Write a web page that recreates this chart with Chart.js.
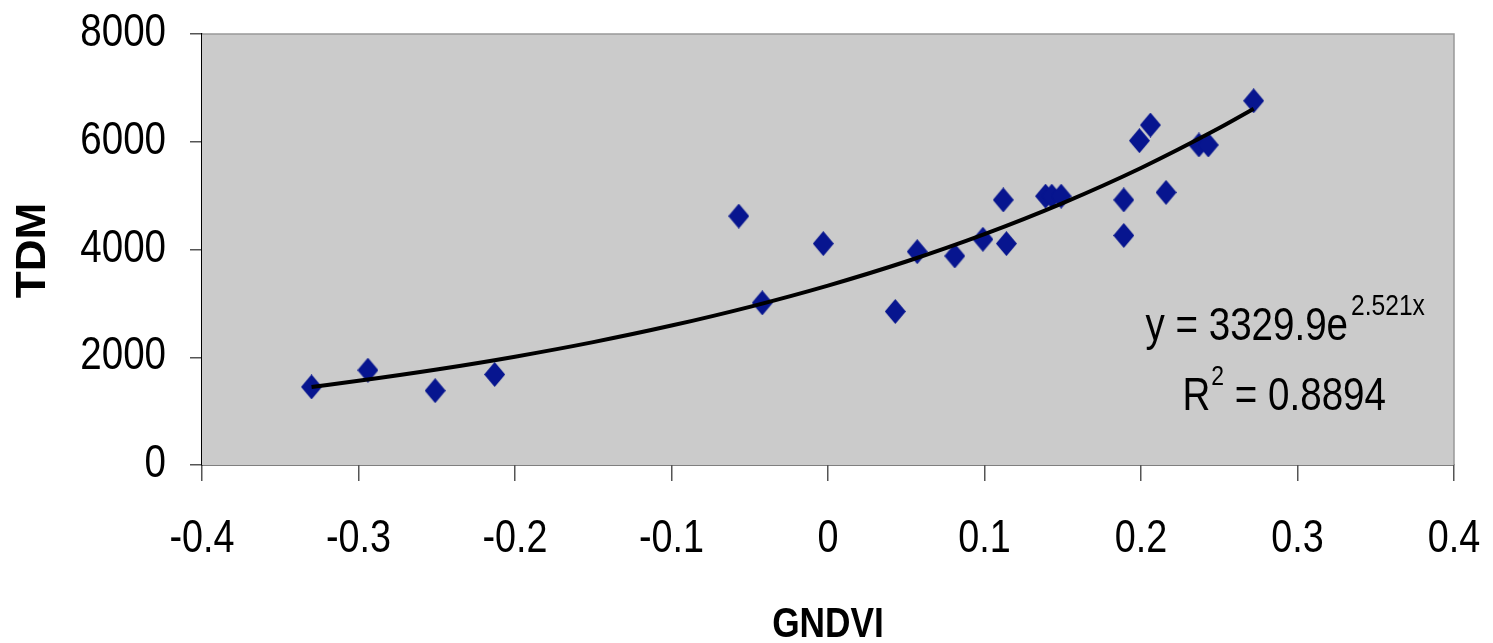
<!DOCTYPE html>
<html>
<head>
<meta charset="utf-8">
<script src="https://cdn.jsdelivr.net/npm/chart.js@4.4.1/dist/chart.umd.min.js"></script>
<style>
	html, body { margin: 0; padding: 0; background: #ffffff; }
	#wrap { width: 1493px; height: 643px; }
</style>
</head>
<body>
<div id="wrap"><canvas id="grafico" width="1493" height="643"></canvas></div>
<script>

// puntos medidos
var gndvi = [-0.330, -0.294, -0.251, -0.213, -0.057, -0.042, -0.003, 0.043, 0.057, 0.081, 0.099, 0.114, 0.112, 0.139, 0.143, 0.149, 0.189, 0.189, 0.199, 0.206, 0.216, 0.237, 0.243, 0.272]
var tdm = [1450, 1760, 1380, 1680, 4620, 3010, 4110, 2850, 3960, 3880, 4190, 4110, 4920, 4990, 4990, 4990, 4920, 4260, 6020, 6310, 5060, 5940, 5940, 6760]

// linea de tendencia
var trend_x = [-0.33, -0.3, -0.25, -0.2, -0.15, -0.1, -0.05, 0, 0.05, 0.1, 0.15, 0.2, 0.25, 0.272]
var trend_y = [1449, 1563, 1773, 2011, 2281, 2588, 2936, 3330, 3777, 4285, 4861, 5513, 6254, 6611]

// ticks
var x_ticks = [-0.4, -0.3, -0.2, -0.1, 0, 0.1, 0.2, 0.3, 0.4]
var y_ticks = [0, 2000, 4000, 6000, 8000]

var titulo_x = 'GNDVI'
var titulo_y = 'TDM'
var ecuacion = ['y = 3329.9e', '2.521x']
var r2 = ['R', '2', ' = 0.8894']

var fuente = "'Liberation Sans', Arial, sans-serif"
var angosto = 0.82  // el texto original es condensado

// rombo azul para los puntos
var rombo = document.createElement('canvas')
rombo.width = 21
rombo.height = 25
var rc = rombo.getContext('2d')
rc.fillStyle = '#07158f'
rc.beginPath()
rc.moveTo(10.5, 0)
rc.lineTo(21, 12.5)
rc.lineTo(10.5, 25)
rc.lineTo(0, 12.5)
rc.closePath()
rc.fill()

var puntos = gndvi.map(function(v, i){ return {x: v, y: tdm[i]} })
var tendencia = trend_x.map(function(v, i){ return {x: v, y: trend_y[i]} })

function etiqueta(x_num){
	return String(Number(x_num.toFixed(1)))
}

// escribe texto angosto; align: 0 izq, 0.5 centro, 1 der
function texto(ctx, s, x, y, size, peso, align){
	ctx.font = (peso || '') + ' ' + size + 'px ' + fuente
	var w = ctx.measureText(s).width * angosto
	ctx.save()
	ctx.translate(x - w * align, y)
	ctx.scale(angosto, 1)
	ctx.fillText(s, 0, 0)
	ctx.restore()
	return w
}

function ancho(ctx, s, size){
	ctx.font = size + 'px ' + fuente
	return ctx.measureText(s).width * angosto
}

var fondo = {
	id: 'fondo',
	beforeDatasetsDraw: function(chart){
		var a = chart.chartArea, ctx = chart.ctx
		ctx.save()
		ctx.fillStyle = '#cbcbcb'
		ctx.fillRect(a.left, a.top, a.right - a.left, a.bottom - a.top)
		ctx.restore()
	},
	afterDraw: function(chart){
		var a = chart.chartArea, ctx = chart.ctx
		var sx = chart.scales.x, sy = chart.scales.y
		ctx.save()
		ctx.strokeStyle = '#999999'
		ctx.lineWidth = 1.5
		ctx.beginPath()
		ctx.moveTo(a.left, a.top)
		ctx.lineTo(a.right, a.top)
		ctx.lineTo(a.right, a.bottom)
		ctx.stroke()

		ctx.fillStyle = '#000'
		ctx.textBaseline = 'alphabetic'
		ctx.textAlign = 'left'

		/* etiquetas de los ejes */
		sy.ticks.forEach(function(t){
			texto(ctx, String(t.value), a.left - 36, sy.getPixelForValue(t.value) + 12, 47, '', 1)
		})
		sx.ticks.forEach(function(t){
			texto(ctx, etiqueta(t.value), sx.getPixelForValue(t.value), a.bottom + 87, 46, '', 0.5)
		})

		texto(ctx, titulo_x, (a.left + a.right) / 2, chart.height - 6, 43, 'bold', 0.5)

		ctx.save()
		ctx.translate(45, (a.top + a.bottom) / 2 + 1)
		ctx.rotate(-Math.PI / 2)
		ctx.font = 'bold 42px ' + fuente
		ctx.textAlign = 'center'
		ctx.scale(1.05, 1)
		ctx.fillText(titulo_y, 0, 0)
		ctx.restore()

		/* texto de la ecuacion */
		var cx = a.left + (a.right - a.left) * 0.864
		var b1 = a.top + (a.bottom - a.top) * 0.71
		var b2 = a.top + (a.bottom - a.top) * 0.872

		var w1 = ancho(ctx, ecuacion[0], 47)
		var w2 = ancho(ctx, ecuacion[1], 30)
		var x0 = cx - (w1 + w2) / 2
		texto(ctx, ecuacion[0], x0, b1, 47, '', 0)
		texto(ctx, ecuacion[1], x0 + w1 + 3, b1 - 25, 30, '', 0)

		var wr = ancho(ctx, r2[0], 47)
		var ws = ancho(ctx, r2[1], 28)
		var wc = ancho(ctx, r2[2], 47)
		x0 = cx - (wr + ws + wc) / 2
		texto(ctx, r2[0], x0, b2, 47, '', 0)
		texto(ctx, r2[1], x0 + wr + 1, b2 - 25, 28, '', 0)
		texto(ctx, r2[2], x0 + wr + ws + 1, b2, 47, '', 0)
		ctx.restore()
	}
}

var ctx = document.getElementById('grafico').getContext('2d')
window.miGrafico = new Chart(ctx, {
	type: 'scatter',
	data: {
		datasets: [{
			type: 'line',
			label: 'Tendencia',
			data: tendencia,
			borderColor: '#000000',
			borderWidth: 4,
			pointRadius: 0,
			fill: false,
			cubicInterpolationMode: 'monotone',
			order: 0
		}, {
			label: 'TDM',
			data: puntos,
			pointStyle: rombo,
			pointRadius: 12,
			backgroundColor: '#07158f',
			order: 1
		}]
	},
	options: {
		responsive: false,
		animation: false,
		layout: {
			padding: {top: 34, right: 39, bottom: 0, left: 0}
		},
		plugins: {
			legend: {display: false},
			tooltip: {enabled: false}
		},
		scales: {
			x: {
				type: 'linear',
				min: x_ticks[0],
				max: x_ticks[x_ticks.length - 1],
				afterBuildTicks: function(scale){
					scale.ticks = x_ticks.map(function(v){ return {value: v} })
				},
				afterFit: function(scale){
					scale.height = 178
					scale.paddingLeft = 0
					scale.paddingRight = 0
				},
				border: {color: '#000000', width: 1.5},
				grid: {drawOnChartArea: false, tickLength: 16, color: '#555555', lineWidth: 1.5},
				ticks: {display: false}
			},
			y: {
				type: 'linear',
				min: 0,
				max: 8000,
				afterBuildTicks: function(scale){
					scale.ticks = y_ticks.map(function(v){ return {value: v} })
				},
				afterFit: function(scale){
					scale.width = 202
					scale.paddingTop = 0
					scale.paddingBottom = 0
				},
				border: {color: '#000000', width: 1.5},
				grid: {drawOnChartArea: false, tickLength: 12, color: '#555555', lineWidth: 1.5},
				ticks: {display: false}
			}
		}
	},
	plugins: [fondo]
})

</script>
</body>
</html>
